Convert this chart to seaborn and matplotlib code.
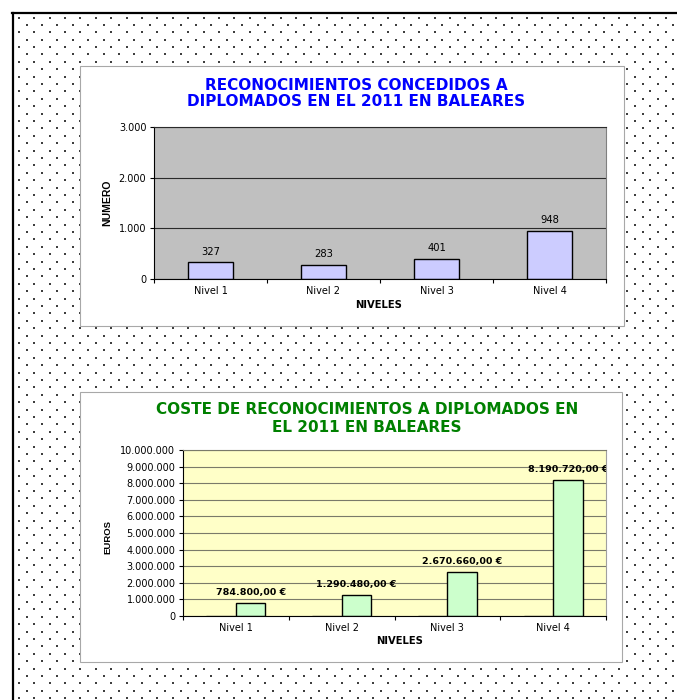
import numpy as np
import pandas as pd
import matplotlib
matplotlib.use('Agg')
import matplotlib.pyplot as plt
import seaborn as sns
from matplotlib.patches import Rectangle
from matplotlib.lines import Line2D
from matplotlib.ticker import FuncFormatter

# ---------------- data ----------------
niveles = ['Nivel 1', 'Nivel 2', 'Nivel 3', 'Nivel 4']
reconocimientos = [327, 283, 401, 948]
coste = [784800.00, 1290480.00, 2670660.00, 8190720.00]
coste_vacio = [0, 0, 0, 0]
titulo1 = ['RECONOCIMIENTOS CONCEDIDOS A', 'DIPLOMADOS EN EL 2011 EN BALEARES']
titulo2 = ['COSTE DE RECONOCIMIENTOS A DIPLOMADOS EN', 'EL 2011 EN BALEARES']
y1_ticks = [0, 1000, 2000, 3000]
y2_ticks = [0, 1000000, 2000000, 3000000, 4000000, 5000000,
            6000000, 7000000, 8000000, 9000000, 10000000]


def es_num(v, dec=0):
    s = f'{v:,.{dec}f}'
    return s.replace(',', 'X').replace('.', ',').replace('X', '.')


plt.rcParams['font.family'] = ['DejaVu Sans']
VFONT = ['Liberation Sans', 'DejaVu Sans']

W, H = 677, 700
fig = plt.figure(figsize=(W / 100, H / 100), dpi=100)
fig.patch.set_facecolor('white')


def fx(x):
    return x / W


def fy(y):
    return 1 - y / H


def rect(l, t, r, b):
    return [fx(l), fy(b), fx(r) - fx(l), fy(t) - fy(b)]


# ---------------- background (dotted page) ----------------
bg = fig.add_axes([0, 0, 1, 1], zorder=0)
bg.set_xlim(0, W)
bg.set_ylim(H, 0)
bg.axis('off')
xs, ys = [], []
for i, yy in enumerate(np.arange(17.5, H + 5, 7.4)):
    start = 18.8 + (7.7 if i % 2 else 0)
    cols = np.arange(start, W + 5, 15.4)
    xs.extend(cols)
    ys.extend([yy] * len(cols))
bg.scatter(xs, ys, s=2.2, marker='s', c='#3e3e3e', linewidths=0, zorder=1)
bg.add_line(Line2D([13, 13], [13, H + 2], color='black', lw=1.6, zorder=2))
bg.add_line(Line2D([12.2, W + 2], [13, 13], color='black', lw=1.6, zorder=2))
bg.add_patch(Rectangle((80, 66), 544, 260, fc='white', ec='#a8a8a8', lw=0.8, zorder=3))
bg.add_patch(Rectangle((80, 392), 542, 270, fc='white', ec='#a8a8a8', lw=0.8, zorder=3))

# ---------------- chart 1 ----------------
ax1 = fig.add_axes(rect(154, 127, 606, 279), zorder=3)
df1 = pd.DataFrame({'Nivel': niveles, 'Numero': reconocimientos})
sns.barplot(data=df1, x='Nivel', y='Numero', ax=ax1, color='#CCCCFF',
            edgecolor='black', linewidth=1.0, width=0.4, saturation=1)
ax1.set_facecolor('#C0C0C0')
ax1.set_xlim(-0.5, 3.5)
ax1.set_ylim(0, 3000)
ax1.set_yticks(y1_ticks)
ax1.yaxis.set_major_formatter(FuncFormatter(lambda v, p: es_num(v)))
ax1.set_axisbelow(True)
ax1.yaxis.grid(True, color='#2a2a2a', lw=0.8)
ax1.set_xticks([-0.5, 0.5, 1.5, 2.5, 3.5], minor=True)
ax1.tick_params(axis='y', length=3, width=0.8, pad=2.5, labelsize=7, colors='black')
ax1.tick_params(axis='x', which='major', length=0, pad=5, labelsize=7)
ax1.tick_params(axis='x', which='minor', length=3, width=0.8)
for s in ['left', 'bottom']:
    ax1.spines[s].set_color('black')
    ax1.spines[s].set_linewidth(0.8)
ax1.spines['top'].set_color('#2a2a2a')
ax1.spines['top'].set_linewidth(0.8)
ax1.spines['right'].set_color('#808080')
ax1.spines['right'].set_linewidth(0.8)
ax1.bar_label(ax1.containers[0], labels=[es_num(v) for v in reconocimientos],
              padding=4, fontsize=7.2)
ax1.set_xlabel('NIVELES', fontsize=7.2, fontweight='bold')
ax1.set_ylabel('NUMERO', fontsize=7.5, fontweight='bold', family=VFONT)
ax1.xaxis.set_label_coords(0.496, -0.138)
ax1.yaxis.set_label_coords(-0.093, 0.5)
fig.text(fx(356), fy(86), titulo1[0], ha='center', va='center', fontsize=11,
         fontweight='bold', color='#0000FF')
fig.text(fx(356), fy(102), titulo1[1], ha='center', va='center', fontsize=11,
         fontweight='bold', color='#0000FF')

# ---------------- chart 2 ----------------
ax2 = fig.add_axes(rect(183, 450, 606, 616), zorder=3)
df2 = pd.DataFrame({
    'Nivel': niveles * 2,
    'Euros': coste_vacio + coste,
    'Serie': ['Vacio'] * 4 + ['Coste'] * 4,
})
sns.barplot(data=df2, x='Nivel', y='Euros', hue='Serie', hue_order=['Vacio', 'Coste'],
            palette=['#9999FF', '#CCFFCC'], ax=ax2, edgecolor='black',
            linewidth=1.0, width=0.56, saturation=1, legend=False)
for p in ax2.containers[0]:
    p.set_edgecolor('#5a5a5a')
ax2.set_facecolor('#FFFFC8')
ax2.set_xlim(-0.5, 3.5)
ax2.set_ylim(0, 10000000)
ax2.set_yticks(y2_ticks)
ax2.yaxis.set_major_formatter(FuncFormatter(lambda v, p: es_num(v)))
ax2.set_axisbelow(True)
ax2.yaxis.grid(True, color='#7a7a6a', lw=0.8)
ax2.set_xticks([-0.5, 0.5, 1.5, 2.5, 3.5], minor=True)
ax2.tick_params(axis='y', length=3, width=0.8, pad=2.5, labelsize=7)
ax2.tick_params(axis='x', which='major', length=0, pad=5, labelsize=7)
ax2.tick_params(axis='x', which='minor', length=3, width=0.8)
for s in ['left', 'bottom']:
    ax2.spines[s].set_color('black')
    ax2.spines[s].set_linewidth(0.8)
ax2.spines['top'].set_color('#7a7a6a')
ax2.spines['top'].set_linewidth(0.8)
ax2.spines['right'].set_color('#a0a0a0')
ax2.spines['right'].set_linewidth(0.8)
ax2.bar_label(ax2.containers[1], labels=[es_num(v, 2) + ' €' for v in coste],
              padding=4, fontsize=6.8, fontweight='bold', clip_on=True)
ax2.set_xlabel('NIVELES', fontsize=7.2, fontweight='bold')
ax2.set_ylabel('EUROS', fontsize=6.8, fontweight='bold', family=VFONT)
ax2.xaxis.set_label_coords(0.513, -0.120)
ax2.yaxis.set_label_coords(-0.168, 0.476)
fig.text(fx(367), fy(410), titulo2[0], ha='center', va='center', fontsize=11,
         fontweight='bold', color='#008000')
fig.text(fx(367), fy(427), titulo2[1], ha='center', va='center', fontsize=11,
         fontweight='bold', color='#008000')

fig.savefig('out.png', dpi=100)
